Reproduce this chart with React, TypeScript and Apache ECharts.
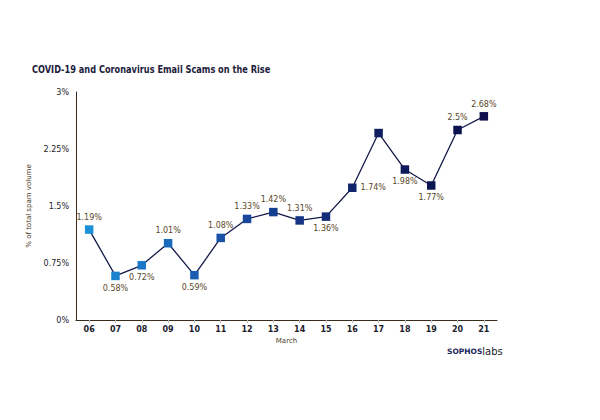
import React, { useEffect, useRef } from "react";
import * as echarts from "echarts";

const days = ["06", "07", "08", "09", "10", "11", "12", "13", "14", "15", "16", "17", "18", "19", "20", "21"];
const values = [1.19, 0.58, 0.72, 1.01, 0.59, 1.08, 1.33, 1.42, 1.31, 1.36, 1.74, 2.46, 1.98, 1.77, 2.5, 2.68];
const labels = ["1.19%", "0.58%", "0.72%", "1.01%", "0.59%", "1.08%", "1.33%", "1.42%", "1.31%", "1.36%", "1.74%", "", "1.98%", "1.77%", "2.5%", "2.68%"];
const labelPos = ["top", "bottom", "bottom", "top", "bottom", "top", "top", "top", "top", "bottom", "right", "top", "bottom", "bottom", "top", "top"];
const markerColors = [
  "#1b8fd8", "#1a82cf", "#1a76c6", "#1a6abc", "#1a5eb2", "#1a52a8", "#18489c", "#163e90",
  "#153584", "#132d78", "#11256c", "#101f62", "#0e1a5a", "#0d1554", "#0c1250", "#0b0f4c",
];

export default function App() {
  const ref = useRef<HTMLDivElement>(null);
  useEffect(() => {
    if (!ref.current) return;
    const chart = echarts.init(ref.current, undefined, { renderer: "svg" });
    const labelColor = "#5a4628";
    chart.setOption({
      animation: false,
      backgroundColor: "#ffffff",
      textStyle: { fontFamily: "DejaVu Sans" },
      grid: { left: 76, right: 103, top: 92, bottom: 100 },
      xAxis: {
        type: "category",
        data: days,
        boundaryGap: true,
        name: "March",
        nameLocation: "middle",
        nameGap: 14,
        nameTextStyle: { fontSize: 7, color: "#4a3a26" },
        axisLine: { lineStyle: { color: "#3a2c1c", width: 1 } },
        axisTick: { show: true, alignWithLabel: true, length: 3, lineStyle: { color: "#bbbbbb" } },
        axisLabel: { fontSize: 8, fontWeight: "bold", color: "#1c1c2c", margin: 5 },
      },
      yAxis: {
        type: "value",
        min: 0,
        max: 3,
        interval: 0.75,
        name: "% of total spam volume",
        nameLocation: "middle",
        nameGap: 33,
        nameTextStyle: { fontSize: 7, color: "#4a3a26" },
        axisLine: { show: true, lineStyle: { color: "#3a2c1c", width: 1 } },
        axisTick: { show: false },
        splitLine: { show: false },
        axisLabel: {
          fontSize: 8,
          color: "#1c1c2c",
          margin: 7,
          formatter: (v: number) => v + "%",
        },
      },
      series: [
        {
          type: "line",
          data: values.map((v, i) => ({
            value: v,
            itemStyle: { color: markerColors[i], borderColor: markerColors[i], borderWidth: 0 },
            label: {
              show: labels[i] !== "",
              position: labelPos[i],
              formatter: labels[i],
              distance: 4,
            },
          })),
          symbol: "rect",
          symbolSize: 8.5,
          lineStyle: { color: "#141a4a", width: 1.3 },
          label: { fontSize: 8, color: labelColor },
        },
      ],
      graphic: [
        {
          type: "text",
          x: 32,
          y: 64,
          scaleX: 0.83,
          style: {
            text: "COVID-19 and Coronavirus Email Scams on the Rise",
            fontSize: 11,
            fontWeight: "bold",
            fill: "#1c1c3c",
            fontFamily: "'Liberation Sans Narrow', 'DejaVu Sans Condensed', 'Liberation Sans'",
          },
        },
        {
          type: "text",
          left: 447,
          top: 346,
          style: {
            text: "{a|SOPHOS}{b|labs}",
            rich: {
              a: { fontSize: 7.5, fontWeight: "bold", fontFamily: "DejaVu Sans", fill: "#1a1f5c" },
              b: { fontSize: 10, fontFamily: "DejaVu Sans", fill: "#1a1a2a" },
            },
          },
        },
      ],
    });
    return () => chart.dispose();
  }, []);
  return <div ref={ref} style={{ width: 600, height: 420, position: "absolute", left: 0, top: 0 }} />;
}
